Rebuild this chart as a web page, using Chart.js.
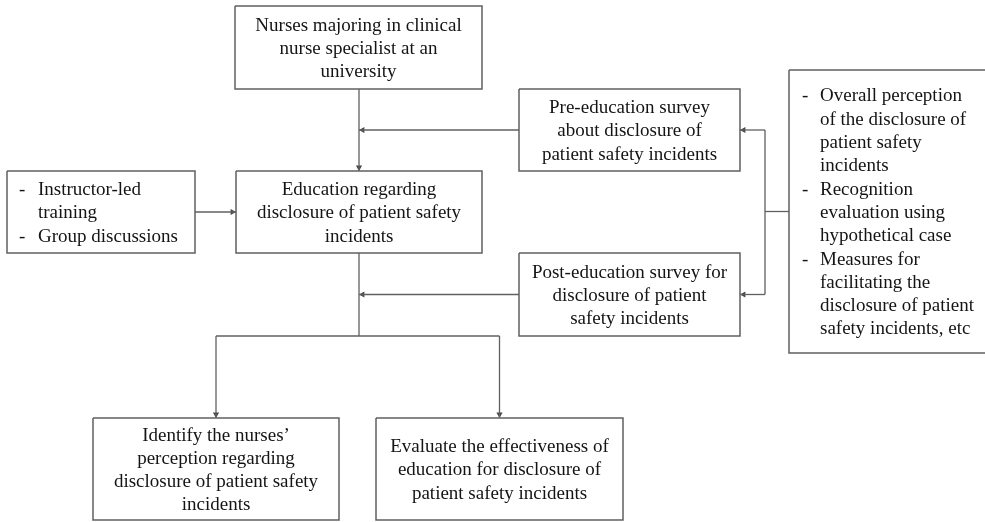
<!DOCTYPE html>
<html>
<head>
<meta charset="utf-8">
<script src="https://cdn.jsdelivr.net/npm/chart.js@4.4.1/dist/chart.umd.min.js"></script>
<style>
  html, body { margin: 0; padding: 0; background: #fff; }
  #wrap { width: 985px; height: 522px; position: relative; }
</style>
</head>
<body>
<div id="wrap"><canvas id="flow"></canvas></div>
<script>
// box texts, one entry per box (lines starting with "- " are bullets)
const boxLines = [
  ['Nurses majoring in clinical', 'nurse specialist at an', 'university'],
  ['Pre-education survey', 'about disclosure of', 'patient safety incidents'],
  ['- Overall perception', 'of the disclosure of', 'patient safety', 'incidents',
   '- Recognition', 'evaluation using', 'hypothetical case',
   '- Measures for', 'facilitating the', 'disclosure of patient', 'safety incidents, etc'],
  ['- Instructor-led', 'training', '- Group discussions'],
  ['Education regarding', 'disclosure of patient safety', 'incidents'],
  ['Post-education survey for', 'disclosure of patient', 'safety incidents'],
  ['Identify the nurses\u2019', 'perception regarding', 'disclosure of patient safety', 'incidents'],
  ['Evaluate the effectiveness of', 'education for disclosure of', 'patient safety incidents']
];

// which boxes play which role (by index)
const surveyBoxes = [1, 5];
const sourceBox = 2;
const outcomeBoxes = [6, 7];

// layout (in canvas units)
const layout = [
  { x0: 235, x1: 482, y0: 6, y1: 89 },
  { x0: 519, x1: 740, y0: 89, y1: 171 },
  { x0: 789, x1: 995, y0: 70, y1: 353, left: true, dash: 802, text: 820 },
  { x0: 7, x1: 195, y0: 171, y1: 253, left: true, dash: 19, text: 38 },
  { x0: 236, x1: 482, y0: 171, y1: 253 },
  { x0: 519, x1: 740, y0: 253, y1: 336 },
  { x0: 93, x1: 339, y0: 418, y1: 520 },
  { x0: 376, x1: 623, y0: 418, y1: 520 }
];

const lineColor = '#606060';
const textColor = '#141414';
const font = '19px "Liberation Serif", "Times New Roman", serif';
const lineH = 23.3;
const textShift = 1.5;
const arrowR = 3.6;

const cx = b => (b.x0 + b.x1) / 2;
const cy = b => (b.y0 + b.y1) / 2;

// build connector paths from the box layout
const trunkX = 359;
const busX = 765;
const forkY = layout[5].y1;
const paths = [];
const edu = layout[4];
paths.push({ pts: [[trunkX, layout[0].y1], [trunkX, edu.y0]], arrow: true });
surveyBoxes.forEach(i => {
  const b = layout[i];
  paths.push({ pts: [[b.x0, cy(b)], [trunkX, cy(b)]], arrow: true });
  paths.push({ pts: [[busX, cy(b)], [b.x1, cy(b)]], arrow: true });
});
const src = layout[sourceBox];
paths.push({ pts: [[src.x0, cy(src)], [busX, cy(src)]], arrow: false });
paths.push({ pts: [[busX, cy(layout[1])], [busX, cy(layout[5])]], arrow: false });
const lb = layout[3];
paths.push({ pts: [[lb.x1, cy(lb)], [edu.x0, cy(lb)]], arrow: true });
paths.push({ pts: [[trunkX, edu.y1], [trunkX, forkY]], arrow: false });
paths.push({ pts: [[cx(layout[6]), forkY], [cx(layout[7]), forkY]], arrow: false });
outcomeBoxes.forEach(i => {
  const b = layout[i];
  paths.push({ pts: [[cx(b), forkY], [cx(b), b.y0]], arrow: true });
});

const datasets = [];
layout.forEach(b => {
  datasets.push({
    data: [{x: b.x0, y: b.y0}, {x: b.x1, y: b.y0}, {x: b.x1, y: b.y1}, {x: b.x0, y: b.y1}, {x: b.x0, y: b.y0}],
    showLine: true, borderColor: lineColor, borderWidth: 1.5, pointRadius: 0, tension: 0
  });
});
const tips = [], rots = [];
paths.forEach(p => {
  datasets.push({
    data: p.pts.map(q => ({x: q[0], y: q[1]})),
    showLine: true, borderColor: lineColor, borderWidth: 1.3, pointRadius: 0, tension: 0
  });
  if (p.arrow) {
    const a = p.pts[p.pts.length - 2], t = p.pts[p.pts.length - 1];
    const dx = t[0] - a[0], dy = t[1] - a[1];
    const len = Math.hypot(dx, dy);
    tips.push({ x: t[0] - dx / len * arrowR, y: t[1] - dy / len * arrowR });
    rots.push(Math.atan2(dx, -dy) * 180 / Math.PI);
  }
});
datasets.push({
  data: tips, showLine: false, pointStyle: 'triangle', pointRadius: arrowR,
  pointRotation: rots, backgroundColor: '#444', borderColor: '#444', borderWidth: 0
});

const boxText = {
  id: 'boxText',
  afterDatasetsDraw(chart) {
    const {ctx, scales: {x, y}} = chart;
    ctx.save();
    ctx.font = font;
    ctx.fillStyle = textColor;
    ctx.textBaseline = 'middle';
    boxLines.forEach((lines, i) => {
      const b = layout[i];
      const top = cy(b) - (lines.length - 1) * lineH / 2 + textShift;
      lines.forEach((ln, k) => {
        const py = y.getPixelForValue(top + k * lineH);
        if (b.left) {
          ctx.textAlign = 'left';
          let s = ln;
          if (s.startsWith('- ')) {
            ctx.fillText('-', x.getPixelForValue(b.dash), py);
            s = s.slice(2);
          }
          ctx.fillText(s, x.getPixelForValue(b.text), py);
        } else {
          ctx.textAlign = 'center';
          ctx.fillText(ln, x.getPixelForValue(cx(b)), py);
        }
      });
    });
    ctx.restore();
  }
};

new Chart(document.getElementById('flow'), {
  type: 'scatter',
  data: { datasets },
  options: {
    responsive: true,
    maintainAspectRatio: false,
    animation: false,
    layout: { padding: 0, autoPadding: false },
    scales: {
      x: { type: 'linear', min: 0, max: 985, display: false },
      y: { type: 'linear', min: 0, max: 522, reverse: true, display: false }
    },
    plugins: { legend: { display: false }, tooltip: { enabled: false } }
  },
  plugins: [boxText]
});
</script>
</body>
</html>
